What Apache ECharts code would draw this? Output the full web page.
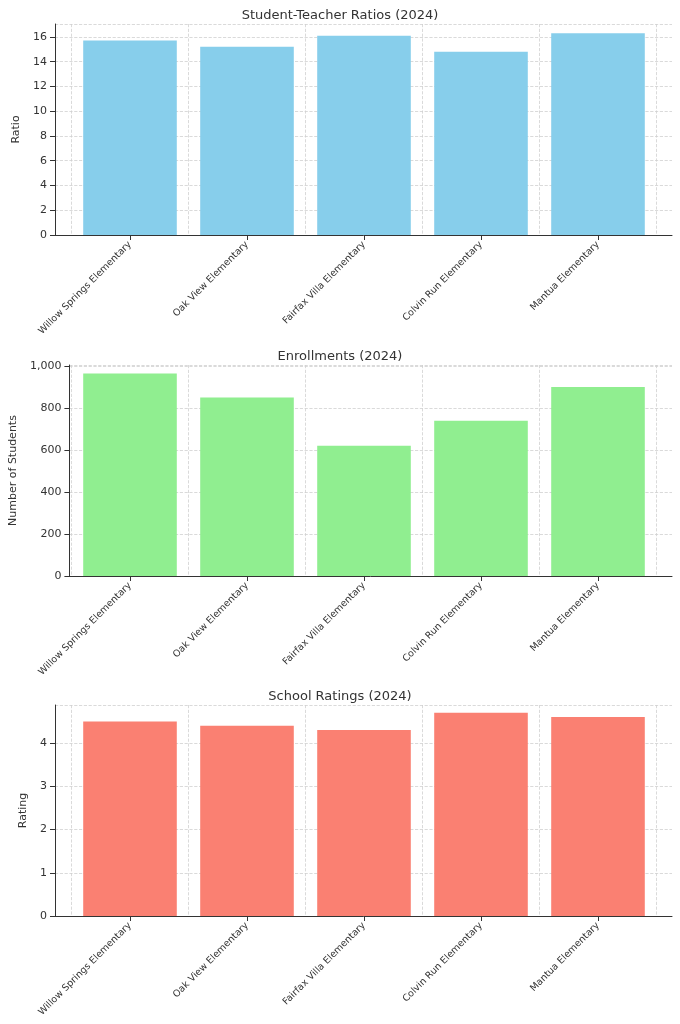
<!DOCTYPE html>
<html lang="en">
<head>
<meta charset="UTF-8" />
<title>Schools 2024</title>
<script src="https://cdn.jsdelivr.net/npm/echarts@6/dist/echarts.min.js"></script>
</head>
<body style="margin:0">
<div id="c" style="width:680px;height:1024px"></div>
<script>
var schools = ["Willow Springs Elementary", "Oak View Elementary", "Fairfax Villa Elementary", "Colvin Run Elementary", "Mantua Elementary"];
var ratios = [15.7, 15.2, 16.1, 14.8, 16.3];
var enrollments = [965, 850, 620, 740, 900];
var ratings = [4.5, 4.4, 4.3, 4.7, 4.6];

var panels = [
    { title: "Student-Teacher Ratios (2024)", name: "Ratio", data: ratios, color: "#87CEEB", top: 24, max: 17.04, interval: 2 },
    { title: "Enrollments (2024)", name: "Number of Students", data: enrollments, color: "#90EE90", top: 365, max: 1005, interval: 200 },
    { title: "School Ratings (2024)", name: "Rating", data: ratings, color: "#FA8072", top: 705, max: 4.88, interval: 1 }
];
var H = 211;
var font = "DejaVu Sans";
var grids = [], xAxes = [], yAxes = [], series = [], titles = [];
var grey = { color: "#d0d0d0", type: "dashed", width: 0.8 };

panels.forEach(function (p, i) {
    titles.push({ text: p.title, left: "center", top: p.top - 20,
        textStyle: { fontFamily: font, fontSize: 13, fontWeight: "normal", color: "#333" } });
    // outer grid: axis frame + y labels
    grids.push({ left: 55, width: 617, top: p.top, height: H });
    // inner grid: bars
    grids.push({ left: 71.5, width: 585, top: p.top, height: H });
    xAxes.push({ gridIndex: 2 * i, type: "value", min: 0, max: 1, axisLabel: { show: false },
        splitLine: { show: false }, axisTick: { show: false },
        axisLine: { lineStyle: { color: "#333" } } });
    xAxes.push({ gridIndex: 2 * i + 1, type: "category", data: schools,
        axisLine: { show: false }, axisTick: { show: true, alignWithLabel: true, lineStyle: { color: "#333" } },
        splitLine: { show: true, lineStyle: grey }, splitArea: { show: false },
        axisLabel: { rotate: 45, interval: 0, fontFamily: font, fontSize: 9.5, color: "#333", margin: 8 } });
    yAxes.push({ gridIndex: 2 * i, type: "value", min: 0, max: p.max, interval: p.interval,
        name: p.name, nameLocation: "middle", nameGap: p.max > 100 ? 34 : 22,
        nameTextStyle: { fontFamily: font, fontSize: 11, color: "#333" },
        axisLine: { show: true, lineStyle: { color: "#333" } }, axisTick: { show: true },
        axisLabel: { fontFamily: font, fontSize: 11, color: "#333", showMaxLabel: false },
        splitLine: { show: true, lineStyle: grey } });
    yAxes.push({ gridIndex: 2 * i + 1, type: "value", min: 0, max: p.max, show: false, splitLine: { show: false } });
    series.push({ type: "bar", xAxisIndex: 2 * i + 1, yAxisIndex: 2 * i + 1, data: p.data,
        barWidth: "80%", itemStyle: { color: p.color } });
});

var chart = echarts.init(document.getElementById("c"));
chart.setOption({
    animation: false,
    title: titles,
    grid: grids,
    xAxis: xAxes,
    yAxis: yAxes,
    series: series
});
</script>
</body>
</html>
